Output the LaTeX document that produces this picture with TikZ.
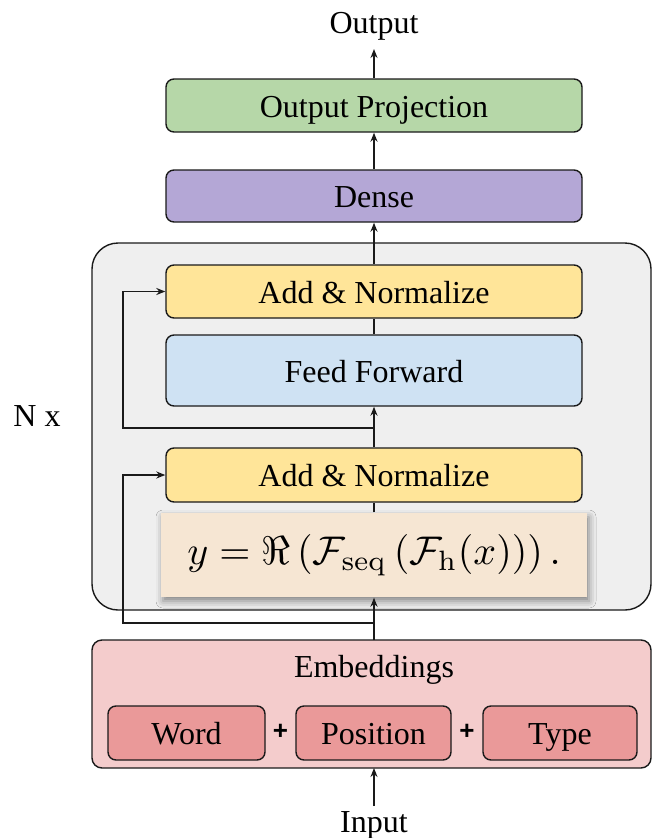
\documentclass[tikz,border=0pt]{standalone}
\usepackage[no-math]{fontspec}
\setmainfont{Liberation Serif}
\newfontfamily\plusfont{Liberation Sans}
\usetikzlibrary{arrows.meta,shadows.blur}

\definecolor{projgreen}{HTML}{B6D7A8}
\definecolor{densepurple}{HTML}{B4A7D6}
\definecolor{normyellow}{HTML}{FFE599}
\definecolor{ffblue}{HTML}{CFE2F3}
\definecolor{stackgray}{HTML}{EFEFEF}
\definecolor{formulabeige}{HTML}{F6E6D3}
\definecolor{embpink}{HTML}{F4CCCC}
\definecolor{embred}{HTML}{EA9999}
\definecolor{edge}{HTML}{1A1A1A}

\begin{document}
\begin{tikzpicture}[x=1pt,y=-1pt,line width=1.4pt,
  txt/.style={font=\fontsize{32}{38}\selectfont},
  boxtxt/.style={txt,text height=23pt,text depth=0pt},
  block/.style={boxtxt,draw=edge,rounded corners=8pt,minimum width=416pt,
    minimum height=52pt,inner sep=0pt},
  part/.style={boxtxt,draw=edge,rounded corners=8pt,minimum height=54pt,inner sep=0pt},
  arr/.style={-{Stealth[length=9pt,width=7pt]}},
  link/.style={draw=edge}]

\useasboundingbox (0,0) rectangle (652,838);

% repeated encoder stack
\draw[edge,fill=stackgray,rounded corners=26pt] (92,243) rectangle (651,610);
\node[txt,anchor=base] (nx) at (37,426) {N x};

% embeddings
\draw[edge,fill=embpink,rounded corners=10pt] (92,640) rectangle (651,768);
\coordinate (embtop) at (374,640);
\coordinate (embbot) at (374,768);
\node[txt,anchor=base] (embtitle) at (374,677) {Embeddings};
\node[part,fill=embred,minimum width=157pt] (word) at (186.5,733) {Word};
\node[part,fill=embred,minimum width=155pt] (pos) at (373.5,733) {Position};
\node[part,fill=embred,minimum width=154pt] (type) at (560,733) {Type};
\node[font=\plusfont\bfseries\fontsize{26}{30}\selectfont] (plusa) at (280.5,732) {+};
\node[font=\plusfont\bfseries\fontsize{26}{30}\selectfont] (plusb) at (467,732) {+};

% layer blocks
\node[block,fill=projgreen,minimum height=53pt] (proj) at (374,105.5) {Output Projection};
\node[block,fill=densepurple] (dense) at (374,196) {Dense};
\node[block,fill=normyellow,minimum height=53pt] (norma) at (374,291.5) {Add \& Normalize};
\node[block,fill=ffblue,minimum height=71pt] (ff) at (374,370.5) {Feed Forward};
\node[block,fill=normyellow,minimum height=54pt] (normb) at (374,475) {Add \& Normalize};
\node[fill=formulabeige,minimum width=426pt,minimum height=84pt,inner sep=0pt,
  blur shadow={shadow xshift=2pt,shadow yshift=-4pt,shadow blur radius=7pt,
    shadow opacity=45}] (fourier) at (374,555)
  {\scalebox{4.0}{$y=\Re\left(\mathcal{F}_{\mathrm{seq}}\left(\mathcal{F}_{\mathrm{h}}(x)\right)\right).$}};

% input / output labels
\node[txt,anchor=base] (output) at (374,33) {Output};
\node[txt,anchor=base] (input) at (374,832) {Input};
\coordinate (outtip) at (374,49);
\coordinate (intail) at (374,806);

% main data path
\draw[link,arr] (intail) -- (embbot);
\draw[link,arr] (embtop) -- (fourier.south);
\draw[link] (fourier.north) -- (normb.south);
\draw[link,arr] (normb.north) -- (ff.south);
\draw[link] (ff.north) -- (norma.south);
\draw[link,arr] (norma.north) -- (dense.south);
\draw[link,arr] (dense.north) -- (proj.south);
\draw[link,arr] (proj.north) -- (outtip);

% residual connections
\coordinate (splitb) at (374,623);
\coordinate (splita) at (374,428);
\draw[link,arr] (splitb) -- (123,623) |- (normb.west);
\draw[link,arr] (splita) -- (123,428) |- (norma.west);
\end{tikzpicture}
\end{document}
